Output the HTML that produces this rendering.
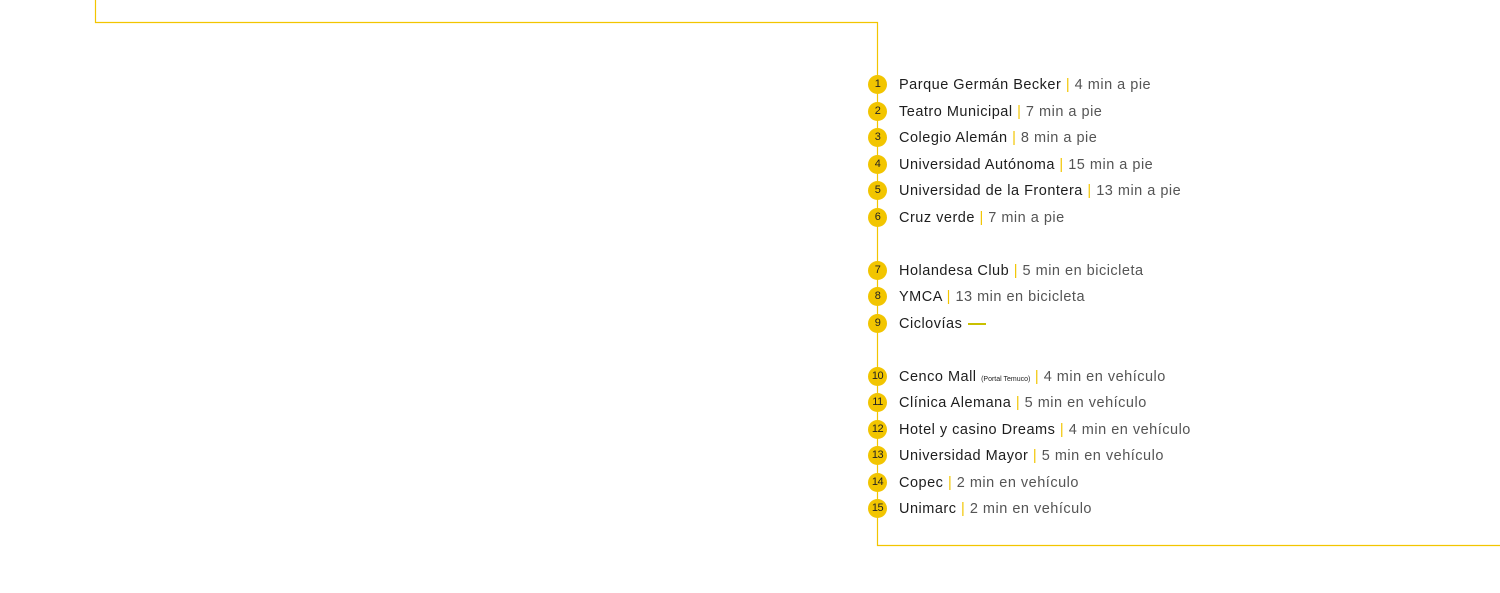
<!DOCTYPE html>
<html><head><meta charset="utf-8"><style>
html,body{margin:0;padding:0;background:#fff;width:1500px;height:593px;overflow:hidden;position:relative;font-family:"Liberation Sans",sans-serif}
.c{position:absolute;left:868px;width:19px;height:19px;border-radius:50%;background:#f2c500;color:#222;font-size:11px;line-height:19px;text-align:center;letter-spacing:-0.5px}
.t{position:absolute;left:899px;font-size:14.5px;line-height:18px;color:#1e1e1e;white-space:nowrap;letter-spacing:0.5px;margin-top:1px}
.t span{color:#555}
.t b{font-weight:normal;color:#f2c500}
.t small{font-size:7px;letter-spacing:0}
</style></head><body>
<svg width="1500" height="593" style="position:absolute;left:0;top:0">
<polyline points="95.5,0 95.5,22.5 877.5,22.5 877.5,545.5 1500,545.5" fill="none" stroke="#f2c500" stroke-width="1.2"/>
</svg>

<div class="c" style="top:75px">1</div><div class="t" style="top:75px">Parque Germán Becker <b>|</b> <span>4 min a pie</span></div>
<div class="c" style="top:102px">2</div><div class="t" style="top:102px">Teatro Municipal <b>|</b> <span>7 min a pie</span></div>
<div class="c" style="top:128px">3</div><div class="t" style="top:128px">Colegio Alemán <b>|</b> <span>8 min a pie</span></div>
<div class="c" style="top:155px">4</div><div class="t" style="top:155px">Universidad Autónoma <b>|</b> <span>15 min a pie</span></div>
<div class="c" style="top:181px">5</div><div class="t" style="top:181px">Universidad de la Frontera <b>|</b> <span>13 min a pie</span></div>
<div class="c" style="top:208px">6</div><div class="t" style="top:208px">Cruz verde <b>|</b> <span>7 min a pie</span></div>

<div class="c" style="top:261px">7</div><div class="t" style="top:261px">Holandesa Club <b>|</b> <span>5 min en bicicleta</span></div>
<div class="c" style="top:287px">8</div><div class="t" style="top:287px">YMCA <b>|</b> <span>13 min en bicicleta</span></div>
<div class="c" style="top:314px">9</div><div class="t" style="top:314px">Ciclovías</div>
<div style="position:absolute;left:968px;top:323px;width:18px;height:2px;background:#c9c000"></div>

<div class="c" style="top:367px">10</div><div class="t" style="top:367px">Cenco Mall <small>(Portal Temuco)</small> <b>|</b> <span>4 min en vehículo</span></div>
<div class="c" style="top:393px">11</div><div class="t" style="top:393px">Clínica Alemana <b>|</b> <span>5 min en vehículo</span></div>
<div class="c" style="top:420px">12</div><div class="t" style="top:420px">Hotel y casino Dreams <b>|</b> <span>4 min en vehículo</span></div>
<div class="c" style="top:446px">13</div><div class="t" style="top:446px">Universidad Mayor <b>|</b> <span>5 min en vehículo</span></div>
<div class="c" style="top:473px">14</div><div class="t" style="top:473px">Copec <b>|</b> <span>2 min en vehículo</span></div>
<div class="c" style="top:499px">15</div><div class="t" style="top:499px">Unimarc <b>|</b> <span>2 min en vehículo</span></div>
</body></html>
